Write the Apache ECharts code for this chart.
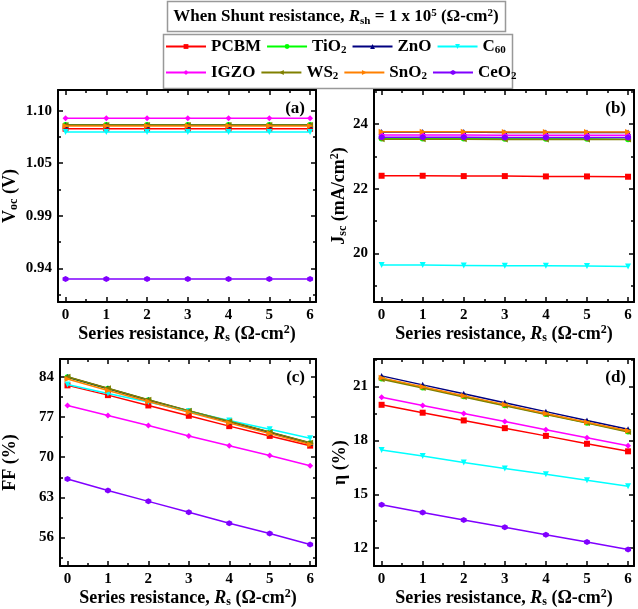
<!DOCTYPE html>
<html><head><meta charset="utf-8">
<script src="https://cdn.jsdelivr.net/npm/echarts@6/dist/echarts.min.js"></script>
<style>html,body{margin:0;padding:0;background:#fff}#c{width:638px;height:609px}</style>
</head><body><div id="c"></div>
<script>
// ---------------- data ----------------
const materials = ['PCBM','TiO2','ZnO','C60','IGZO','WS2','SnO2','CeO2'];
const colors = ['#ff0000','#00ff00','#000080','#00ffff','#ff00ff','#808000','#ff8000','#8000ff'];
const rsValues = [0,1,2,3,4,5,6];

// Voc (V) vs Rs, one row per material
const vocData = [
  [1.0800,1.0800,1.0800,1.0800,1.0800,1.0800,1.0800],
  [1.0836,1.0836,1.0836,1.0836,1.0836,1.0836,1.0836],
  [1.0835,1.0835,1.0835,1.0835,1.0835,1.0835,1.0835],
  [1.0767,1.0767,1.0767,1.0767,1.0767,1.0767,1.0767],
  [1.0904,1.0904,1.0904,1.0904,1.0904,1.0904,1.0904],
  [1.0837,1.0837,1.0837,1.0837,1.0837,1.0837,1.0837],
  [1.0828,1.0828,1.0828,1.0828,1.0828,1.0828,1.0828],
  [0.9298,0.9298,0.9298,0.9298,0.9298,0.9298,0.9298]
];
// Jsc (mA/cm2)
const jscData = [
  [22.40,22.40,22.39,22.39,22.38,22.38,22.37],
  [23.55,23.55,23.55,23.54,23.54,23.54,23.53],
  [23.75,23.75,23.75,23.74,23.74,23.74,23.74],
  [19.64,19.64,19.63,19.62,19.62,19.61,19.60],
  [23.66,23.66,23.66,23.65,23.65,23.65,23.65],
  [23.53,23.53,23.53,23.52,23.52,23.52,23.52],
  [23.76,23.76,23.76,23.75,23.75,23.75,23.75],
  [23.59,23.59,23.59,23.58,23.58,23.58,23.58]
];
// FF (%)
const ffData = [
  [82.5,80.8,79.0,77.2,75.4,73.7,72.0],
  [83.9,81.9,79.9,78.0,76.2,74.3,72.4],
  [83.95,81.95,79.95,78.05,76.2,74.35,72.45],
  [82.65,81.1,79.6,78.0,76.4,74.85,73.3],
  [79.0,77.25,75.5,73.7,72.0,70.3,68.5],
  [84.0,82.0,80.0,78.1,76.25,74.4,72.5],
  [83.6,81.6,79.7,77.8,75.95,74.1,72.2],
  [66.2,64.2,62.3,60.4,58.5,56.7,54.8]
];
// eta (%)
const etaData = [
  [19.98,19.54,19.11,18.68,18.25,17.81,17.39],
  [21.45,20.95,20.45,19.96,19.47,18.98,18.50],
  [21.59,21.09,20.59,20.10,19.60,19.11,18.62],
  [17.46,17.13,16.77,16.44,16.11,15.78,15.45],
  [20.40,19.94,19.49,19.05,18.59,18.14,17.70],
  [21.40,20.91,20.42,19.93,19.44,18.96,18.47],
  [21.48,20.98,20.49,19.99,19.50,19.01,18.53],
  [14.41,13.99,13.57,13.16,12.74,12.34,11.92]
];

// ticks
const xTicks = [0,1,2,3,4,5,6];
const xTickLabels = ['0','1','2','3','4','5','6'];
const xMinor = [0.5,1.5,2.5,3.5,4.5,5.5];
const xRange = [-0.185, 6.145];

const vocTicks = [0.9405,0.993,1.0455,1.098];
const vocTickLabels = ['0.94','0.99','1.05','1.10'];
const vocMinor = [0.91425,0.96675,1.01925,1.07175];
const vocRange = [0.9068, 1.1187];

const jscTicks = [20,22,24];
const jscTickLabels = ['20','22','24'];
const jscMinor = [19,21,23,25];
const jscRange = [18.50, 25.05];

const ffTicks = [56,63,70,77,84];
const ffTickLabels = ['56','63','70','77','84'];
const ffMinor = [52.5,59.5,66.5,73.5,80.5];
const ffRange = [51.03, 87.09];

const etaTicks = [12,15,18,21];
const etaTickLabels = ['12','15','18','21'];
const etaMinor = [13.5,16.5,19.5,22.5];
const etaRange = [11.0, 22.53];

// ---------------- styling ----------------
const FONT = '"Liberation Serif","Times New Roman",serif';
const symbols = [
  {s:'rect', r:0},
  {s:'circle', r:0},
  {s:'triangle', r:0},
  {s:'triangle', r:180},
  {s:'diamond', r:0},
  {s:'triangle', r:90},
  {s:'triangle', r:-90},
  {s:'path://M0,-1L0.866,-0.5L0.866,0.5L0,1L-0.866,0.5L-0.866,-0.5Z', r:0}
];
const richBase = (size) => ({
  b: {fontFamily: FONT, fontWeight: 'bold', fontSize: size, color: '#000'},
  i: {fontFamily: FONT, fontWeight: 'bold', fontStyle: 'italic', fontSize: size, color: '#000'},
  s: {fontFamily: FONT, fontWeight: 'bold', fontSize: Math.round(size*0.65), color: '#000', padding: [Math.round(size*0.45),0,0,0]},
  p: {fontFamily: FONT, fontWeight: 'bold', fontSize: Math.round(size*0.65), color: '#000', padding: [0,0,Math.round(size*0.45),0]}
});

const grids = [
  {left: 56, top: 90, width: 260, height: 212},
  {left: 374, top: 90, width: 260, height: 212},
  {left: 56, top: 359, width: 260, height: 210},
  {left: 374, top: 359, width: 260, height: 210}
];

const xAxes = [], yAxes = [], series = [];
const xName = '{b|Series resistance, }{i|R}{s|s}{b| (Ω-cm}{p|2}{b|)}';

function axis(gi, pos, range, ticks, labels, isMajor, showLabel, name, nameGap, nameSize) {
  const a = {
    type: 'value', gridIndex: gi, position: pos, min: range[0], max: range[1],
    axisLine: {show: isMajor, onZero: false, lineStyle: {color: '#000', width: 2}},
    axisTick: {show: true, inside: true, length: isMajor ? 5 : 3, customValues: ticks,
               lineStyle: {color: '#000', width: 1.5}},
    axisLabel: {show: showLabel, customValues: ticks, margin: 6,
                fontFamily: FONT, fontWeight: 'bold', fontSize: 15, color: '#000',
                formatter: v => { const k = ticks.indexOf(v); return k >= 0 ? labels[k] : ''; }},
    splitLine: {show: false}, minorTick: {show: false}
  };
  if (name) {
    a.name = name; a.nameLocation = 'middle'; a.nameGap = nameGap;
    a.nameTextStyle = {rich: richBase(nameSize)};
  }
  return a;
}

function addPanel(gi, data, yRange, yTicks, yLabels, yMinor, yName, yGap) {
  const xi = xAxes.length, yi = yAxes.length;
  xAxes.push(axis(gi, 'bottom', xRange, xTicks, xTickLabels, true, true, xName, 17, 18));
  xAxes.push(axis(gi, 'bottom', xRange, xMinor, [], false, false));
  xAxes.push(axis(gi, 'top', xRange, xTicks, xTickLabels, true, false));
  xAxes.push(axis(gi, 'top', xRange, xMinor, [], false, false));
  yAxes.push(axis(gi, 'left', yRange, yTicks, yLabels, true, true, yName, yGap, 18));
  yAxes.push(axis(gi, 'left', yRange, yMinor, [], false, false));
  yAxes.push(axis(gi, 'right', yRange, yTicks, yLabels, true, false));
  yAxes.push(axis(gi, 'right', yRange, yMinor, [], false, false));
  materials.forEach((m, k) => {
    series.push({
      type: 'line', name: m, xAxisIndex: xi, yAxisIndex: yi,
      data: rsValues.map((x, j) => [x, data[k][j]]),
      symbol: symbols[k].s, symbolRotate: symbols[k].r, symbolSize: 6,
      showSymbol: true, clip: false,
      lineStyle: {color: colors[k], width: 1.5},
      itemStyle: {color: colors[k]},
      z: 2 + k * 0.01
    });
  });
}

addPanel(0, vocData, vocRange, vocTicks, vocTickLabels, vocMinor, '{b|V}{s|oc}{b| (V)}', 38);
addPanel(1, jscData, jscRange, jscTicks, jscTickLabels, jscMinor, '{b|J}{s|sc}{b| (mA/cm}{p|2}{b|)}', 24);
addPanel(2, ffData, ffRange, ffTicks, ffTickLabels, ffMinor, '{b|FF (%)}', 41);
addPanel(3, etaData, etaRange, etaTicks, etaTickLabels, etaMinor, '{b|η (%)}', 24);

const legendFmt = n => {
  const mm = n.match(/^(.*?)(\d+)$/);
  return mm ? '{b|' + mm[1] + '}{s|' + mm[2] + '}' : '{b|' + n + '}';
};
const legendCommon = {
  orient: 'horizontal', itemWidth: 40, itemHeight: 6, itemGap: 5, padding: 0,
  formatter: legendFmt, textStyle: {rich: richBase(17), padding: [0,0,0,0]},
  selectedMode: false
};

const option = {
  animation: false,
  backgroundColor: '#fff',
  grid: grids,
  xAxis: xAxes,
  yAxis: yAxes,
  legend: [
    Object.assign({left: 165, top: 38, data: materials.slice(0, 4)}, legendCommon),
    Object.assign({left: 165, top: 64, data: materials.slice(4)}, legendCommon)
  ],
  series: series,
  graphic: [
    {type: 'rect', shape: {x: 167.5, y: 1.5, width: 338, height: 30}, style: {fill: '#fff', stroke: '#999', lineWidth: 1.5}, z: 0},
    {type: 'rect', shape: {x: 163.5, y: 34.5, width: 349, height: 54}, style: {fill: '#fff', stroke: '#999', lineWidth: 1.5}, z: 0},
    {type: 'text', x: 336, y: 17, z: 10, style: {
      text: '{b|When Shunt resistance, }{i|R}{s|sh}{b| = 1 x 10}{p|5}{b| (Ω-cm}{p|2}{b|)}',
      align: 'center', verticalAlign: 'middle', rich: richBase(17)}},
    {type: 'text', x: 305, y: 109, z: 10, style: {text: '(a)', align: 'right', verticalAlign: 'middle', font: 'bold 17px ' + FONT, fill: '#000'}},
    {type: 'text', x: 626, y: 109, z: 10, style: {text: '(b)', align: 'right', verticalAlign: 'middle', font: 'bold 17px ' + FONT, fill: '#000'}},
    {type: 'text', x: 305, y: 378, z: 10, style: {text: '(c)', align: 'right', verticalAlign: 'middle', font: 'bold 17px ' + FONT, fill: '#000'}},
    {type: 'text', x: 626, y: 378, z: 10, style: {text: '(d)', align: 'right', verticalAlign: 'middle', font: 'bold 17px ' + FONT, fill: '#000'}}
  ]
};

const chart = echarts.init(document.getElementById('c'), null, {renderer: 'canvas'});
chart.setOption(option);
</script>
</body></html>
